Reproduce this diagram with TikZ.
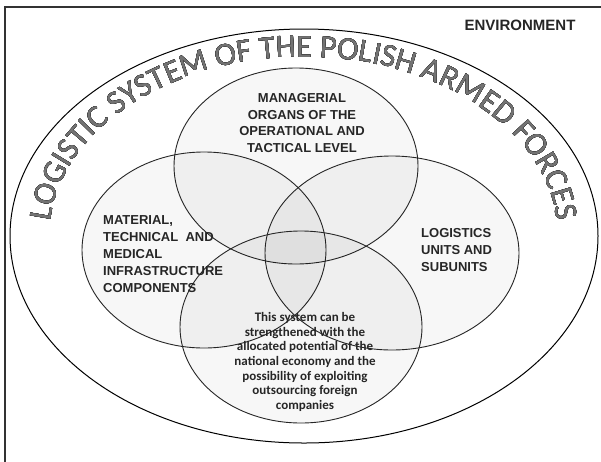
\documentclass[tikz,border=0pt]{standalone}
\usepackage{fontspec}
\setmainfont{Liberation Sans}
\newfontfamily\calib{Carlito}
\usetikzlibrary{decorations.text}
\tikzset{
  venn/.style={draw=black!85, line width=0.9pt, fill=black, fill opacity=0.03},
  lab/.style={font=\bfseries\fontsize{13}{16.8}\selectfont, text=black!85, inner sep=0pt},
  arctxt/.style={decorate, decoration={text along path,
     text={|\calib\fontsize{32.5}{32.5}\selectfont|LOGISTIC SYSTEM OF THE POLISH ARMED FORCES},
     text align=center, text color=#1}}
}
\begin{document}
\begin{tikzpicture}[x=1pt,y=1pt]
\useasboundingbox (0,0) rectangle (601,-461);
\fill[white] (0,0) rectangle (601,-461);
% frame
\coordinate (fa) at (5,-470);
\coordinate (fb) at (5,-7);
\coordinate (fc) at (610,-7);
\draw[line width=1.3pt, black!80] (fa) -- (fb) -- (fc);
% outer ellipse
\coordinate (oc) at (304,-236);
\draw[line width=1pt] (oc) ellipse [x radius=294, y radius=207];
% venn ellipses
\coordinate (ct) at (296,-166);
\coordinate (cl) at (204,-250);
\coordinate (cr) at (392,-253);
\coordinate (cb) at (301,-327);
\path[venn] (ct) ellipse [x radius=122, y radius=98];
\path[venn] (cl) ellipse [x radius=122, y radius=98];
\path[venn] (cr) ellipse [x radius=127, y radius=97];
\path[venn] (cb) ellipse [x radius=121, y radius=96];
% curved title
\foreach \a in {0,45,...,315}{
  \path[arctxt=black!20, shift={(\a:2.4)}] (oc) ++(180:254 and 179) arc[start angle=180, end angle=0, x radius=254, y radius=179];
}
\foreach \a in {0,45,...,315}{
  \path[arctxt=black!80, shift={(\a:1.0)}] (oc) ++(180:254 and 179) arc[start angle=180, end angle=0, x radius=254, y radius=179];
}
\path[arctxt=black!55] (oc) ++(180:254 and 179) arc[start angle=180, end angle=0, x radius=254, y radius=179];
% labels
\node[lab, font=\bfseries\fontsize{15}{18}\selectfont] (env) at (520,-25) {ENVIRONMENT};
\node[lab, align=center] (mgr) at (302,-123) {MANAGERIAL\\ORGANS OF THE\\OPERATIONAL AND\\TACTICAL LEVEL};
\node[lab, align=left, anchor=west] (mat) at (103,-254) {MATERIAL,\\TECHNICAL\ \ AND\\MEDICAL\\INFRASTRUCTURE\\COMPONENTS};
\node[lab, align=left, anchor=west] (log) at (421,-250) {LOGISTICS\\UNITS AND\\SUBUNITS};
\node[inner sep=0pt, align=center, text=black!85, font=\calib\bfseries\fontsize{13}{14.7}\selectfont] (sys) at (305,-362) {This system can be\\strengthened with the\\allocated potential of the\\national economy and the\\possibility of exploiting\\outsourcing foreign\\companies};
\end{tikzpicture}
\end{document}
